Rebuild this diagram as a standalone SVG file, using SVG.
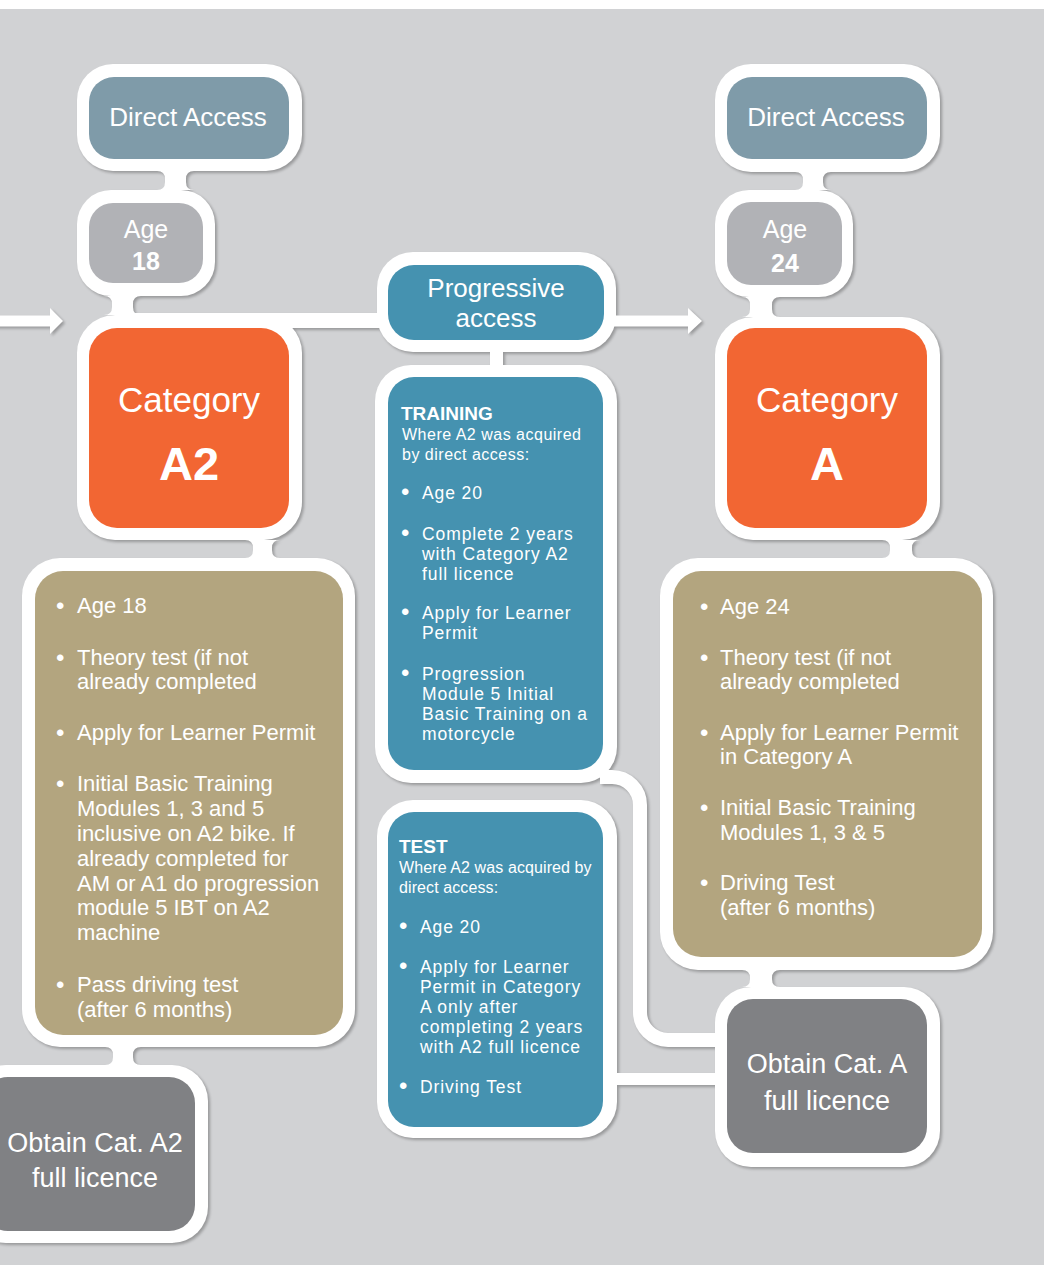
<svg xmlns="http://www.w3.org/2000/svg" xmlns:xlink="http://www.w3.org/1999/xlink" width="1044" height="1265" viewBox="0 0 1044 1265">
<defs>
<style>
.frame{fill:#ffffff}
.conn{fill:#ffffff}
.da{fill:#7f9ba9}
.age{fill:#b1b2b6}
.cat{fill:#f26633}
.tan{fill:#b3a57f}
.blue{fill:#4592b0}
.obt{fill:#808184}
text{font-family:"Liberation Sans",Arial,sans-serif;fill:#ffffff}
.t26{font-size:26px;text-anchor:middle}
.t27{font-size:27px;text-anchor:middle}
.tage{font-size:25px;text-anchor:middle}
.tnum{font-size:25px;font-weight:700;text-anchor:middle}
.tcat{font-size:35px;text-anchor:middle}
.tbig{font-size:47px;font-weight:700;text-anchor:middle}
.li{font-size:22px}
.ls{font-size:17.5px;letter-spacing:0.9px}
.hd{font-size:19px;font-weight:700}
.sub{font-size:16px;letter-spacing:0.5px}
.sub2{font-size:16px;letter-spacing:0.1px}
.b{font-size:24px;letter-spacing:0}
</style>
<filter id="sh" x="-5%" y="-5%" width="110%" height="110%">
<feGaussianBlur in="SourceAlpha" stdDeviation="1.5"/>
<feOffset dx="1.5" dy="2"/>
<feComponentTransfer><feFuncA type="linear" slope="0.28"/></feComponentTransfer>
</filter>
</defs>

<rect x="0" y="0" width="1044" height="1265" fill="#d1d2d4"/>
<rect x="0" y="0" width="1044" height="9" fill="#ffffff"/>

<g id="shadows" filter="url(#sh)">
<use xlink:href="#connectors"/>
<use xlink:href="#f-da1"/><use xlink:href="#f-age1"/><use xlink:href="#f-cat1"/><use xlink:href="#f-tan1"/><use xlink:href="#f-obt1"/>
<use xlink:href="#f-prog"/><use xlink:href="#f-train"/><use xlink:href="#f-test"/>
<use xlink:href="#f-da2"/><use xlink:href="#f-age2"/><use xlink:href="#f-cat2"/><use xlink:href="#f-tan2"/><use xlink:href="#f-obt2"/>
</g>

<g id="connectors">
<rect class="conn" x="-5" y="315.5" width="57" height="11"/>
<polygon class="conn" points="50,308 63,321 50,334"/>
<rect class="conn" x="610" y="315.5" width="80" height="11"/>
<polygon class="conn" points="688,308 702,321 688,334"/>
<rect class="conn" x="120" y="313" width="262" height="15"/>
<path class="conn" d="M157,171 Q165,171 165,179 L165,182 Q165,190 157,190 L194,190 Q186,190 186,182 L186,179 Q186,171 194,171 Z"/>
<path class="conn" d="M104,296 Q112,296 112,304 L112,307 Q112,315 104,315 L141,315 Q133,315 133,307 L133,304 Q133,296 141,296 Z"/>
<rect class="conn" x="490" y="348" width="13" height="20"/>
<path class="conn" d="M245,540 Q253,540 253,548 L253,550 Q253,558 245,558 L280,558 Q272,558 272,550 L272,548 Q272,540 280,540 Z"/>
<path class="conn" d="M105,1047 Q113,1047 113,1055 L113,1057 Q113,1065 105,1065 L141,1065 Q133,1065 133,1057 L133,1055 Q133,1047 141,1047 Z"/>
<path class="conn" d="M795,172 Q803,172 803,180 L803,182 Q803,190 795,190 L831,190 Q823,190 823,182 L823,180 Q823,172 831,172 Z"/>
<path class="conn" d="M742,297 Q750,297 750,305 L750,309 Q750,317 742,317 L780,317 Q772,317 772,309 L772,305 Q772,297 780,297 Z"/>
<path class="conn" d="M882,540 Q890,540 890,548 L890,550 Q890,558 882,558 L920,558 Q912,558 912,550 L912,548 Q912,540 920,540 Z"/>
<path class="conn" d="M742,970 Q750,970 750,978 L750,979 Q750,987 742,987 L780,987 Q772,987 772,979 L772,978 Q772,970 780,970 Z"/>
<path d="M600,777 H612 A28,28 0 0 1 640,805 V1012 A28,28 0 0 0 668,1040 H720" fill="none" stroke="#ffffff" stroke-width="14"/>
<rect class="conn" x="610" y="1073" width="110" height="12"/>
</g>

<g id="node-direct-access-1">
<rect id="f-da1" class="frame" x="77" y="64" width="225" height="107" rx="36"/>
<rect class="da" x="89" y="77" width="200" height="82" rx="25"/>
<text class="t26" x="188" y="126">Direct Access</text>
</g>

<g id="node-age-18">
<rect id="f-age1" class="frame" x="77" y="190" width="138" height="106" rx="34"/>
<rect class="age" x="89" y="203" width="114" height="80" rx="24"/>
<text class="tage" x="146" y="238">Age</text>
<text class="tnum" x="146" y="270">18</text>
</g>

<g id="node-category-a2">
<rect id="f-cat1" class="frame" x="77" y="315" width="225" height="225" rx="38"/>
<rect class="cat" x="89" y="328" width="200" height="200" rx="28"/>
<text class="tcat" x="189" y="412">Category</text>
<text class="tbig" x="189" y="480">A2</text>
</g>

<g id="node-a2-steps">
<rect id="f-tan1" class="frame" x="22" y="558" width="333" height="489" rx="38"/>
<rect class="tan" x="35" y="571" width="308" height="464" rx="28"/>
<text class="li"><tspan class="b" x="56" y="614">•</tspan><tspan x="77" y="613">Age 18</tspan></text>
<text class="li"><tspan class="b" x="56" y="666">•</tspan><tspan x="77" y="665">Theory test (if not</tspan><tspan x="77" y="689">already completed</tspan></text>
<text class="li"><tspan class="b" x="56" y="741">•</tspan><tspan x="77" y="740">Apply for Learner Permit</tspan></text>
<text class="li"><tspan class="b" x="56" y="792">•</tspan><tspan x="77" y="791">Initial Basic Training</tspan><tspan x="77" y="816">Modules 1, 3 and 5</tspan><tspan x="77" y="841">inclusive on A2 bike. If</tspan><tspan x="77" y="866">already completed for</tspan><tspan x="77" y="891">AM or A1 do progression</tspan><tspan x="77" y="915">module 5 IBT on A2</tspan><tspan x="77" y="940">machine</tspan></text>
<text class="li"><tspan class="b" x="56" y="993">•</tspan><tspan x="77" y="992">Pass driving test</tspan><tspan x="77" y="1017">(after 6 months)</tspan></text>
</g>

<g id="node-obtain-a2">
<rect id="f-obt1" class="frame" x="-30" y="1065" width="238" height="178" rx="36"/>
<rect class="obt" x="-18" y="1077" width="213" height="154" rx="26"/>
<text class="t27"><tspan x="95" y="1152">Obtain Cat. A2</tspan><tspan x="95" y="1187">full licence</tspan></text>
</g>

<g id="node-progressive">
<rect id="f-prog" class="frame" x="377" y="252" width="239" height="100" rx="36"/>
<rect class="blue" x="388" y="265" width="216" height="75" rx="26"/>
<text class="t26"><tspan x="496" y="297">Progressive</tspan><tspan x="496" y="327">access</tspan></text>
</g>

<g id="node-training">
<rect id="f-train" class="frame" x="375" y="365" width="242" height="418" rx="36"/>
<rect class="blue" x="388" y="377" width="215" height="393" rx="26"/>
<text class="hd" x="401" y="420">TRAINING</text>
<text class="sub"><tspan x="402" y="440">Where A2 was acquired</tspan><tspan x="402" y="460">by direct access:</tspan></text>
<text class="ls"><tspan class="b" x="401" y="500">•</tspan><tspan x="422" y="499">Age 20</tspan></text>
<text class="ls"><tspan class="b" x="401" y="541">•</tspan><tspan x="422" y="540">Complete 2 years</tspan><tspan x="422" y="560">with Category A2</tspan><tspan x="422" y="580">full licence</tspan></text>
<text class="ls"><tspan class="b" x="401" y="620">•</tspan><tspan x="422" y="619">Apply for Learner</tspan><tspan x="422" y="639">Permit</tspan></text>
<text class="ls"><tspan class="b" x="401" y="681">•</tspan><tspan x="422" y="680">Progression</tspan><tspan x="422" y="700">Module 5 Initial</tspan><tspan x="422" y="720">Basic Training on a</tspan><tspan x="422" y="740">motorcycle</tspan></text>
</g>

<g id="node-test">
<rect id="f-test" class="frame" x="377" y="800" width="240" height="338" rx="36"/>
<rect class="blue" x="388" y="812" width="215" height="315" rx="26"/>
<text class="hd" x="399" y="853">TEST</text>
<text class="sub2"><tspan x="399" y="873">Where A2 was acquired by</tspan><tspan x="399" y="893">direct access:</tspan></text>
<text class="ls"><tspan class="b" x="399" y="934">•</tspan><tspan x="420" y="933">Age 20</tspan></text>
<text class="ls"><tspan class="b" x="399" y="974">•</tspan><tspan x="420" y="973">Apply for Learner</tspan><tspan x="420" y="993">Permit in Category</tspan><tspan x="420" y="1013">A only after</tspan><tspan x="420" y="1033">completing 2 years</tspan><tspan x="420" y="1053">with A2 full licence</tspan></text>
<text class="ls"><tspan class="b" x="399" y="1094">•</tspan><tspan x="420" y="1093">Driving Test</tspan></text>
</g>

<g id="node-direct-access-2">
<rect id="f-da2" class="frame" x="715" y="64" width="225" height="108" rx="36"/>
<rect class="da" x="727" y="77" width="200" height="82" rx="25"/>
<text class="t26" x="826" y="126">Direct Access</text>
</g>

<g id="node-age-24">
<rect id="f-age2" class="frame" x="715" y="190" width="138" height="107" rx="34"/>
<rect class="age" x="727" y="202" width="115" height="83" rx="24"/>
<text class="tage" x="785" y="238">Age</text>
<text class="tnum" x="785" y="272">24</text>
</g>

<g id="node-category-a">
<rect id="f-cat2" class="frame" x="715" y="317" width="225" height="223" rx="38"/>
<rect class="cat" x="727" y="328" width="200" height="200" rx="28"/>
<text class="tcat" x="827" y="412">Category</text>
<text class="tbig" x="827" y="480">A</text>
</g>

<g id="node-a-steps">
<rect id="f-tan2" class="frame" x="660" y="558" width="333" height="412" rx="38"/>
<rect class="tan" x="673" y="571" width="309" height="386" rx="28"/>
<text class="li"><tspan class="b" x="700" y="615">•</tspan><tspan x="720" y="614">Age 24</tspan></text>
<text class="li"><tspan class="b" x="700" y="666">•</tspan><tspan x="720" y="665">Theory test (if not</tspan><tspan x="720" y="689">already completed</tspan></text>
<text class="li"><tspan class="b" x="700" y="741">•</tspan><tspan x="720" y="740">Apply for Learner Permit</tspan><tspan x="720" y="764">in Category A</tspan></text>
<text class="li"><tspan class="b" x="700" y="816">•</tspan><tspan x="720" y="815">Initial Basic Training</tspan><tspan x="720" y="840">Modules 1, 3 &amp; 5</tspan></text>
<text class="li"><tspan class="b" x="700" y="891">•</tspan><tspan x="720" y="890">Driving Test</tspan><tspan x="720" y="915">(after 6 months)</tspan></text>
</g>

<g id="node-obtain-a">
<rect id="f-obt2" class="frame" x="715" y="987" width="225" height="180" rx="36"/>
<rect class="obt" x="727" y="999" width="200" height="154" rx="26"/>
<text class="t27"><tspan x="827" y="1073">Obtain Cat. A</tspan><tspan x="827" y="1110">full licence</tspan></text>
</g>
</svg>
